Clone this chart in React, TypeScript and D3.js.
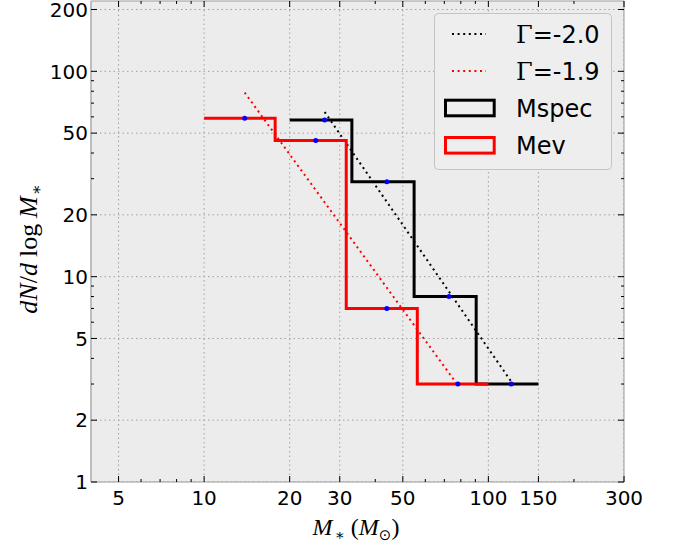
import React from "react";
import * as d3 from "d3";

// Mass function data: log-spaced bin edges and dN/dlogM per bin
const mevEdges = [10, 17.78, 31.62, 56.23, 100];
const mevValues = [59, 46, 7, 3];
const mspecEdges = [20, 33.1, 54.8, 90.6, 150];
const mspecValues = [58, 29, 8, 3];

// Power-law fits  dN/dlogM = A * M^Gamma
const fitGammas = [-2.0, -1.9];
const fitAmplitudes = [44650, 11680];
const fitLabels = ["-2.0", "-1.9"];

const xMajorTicks = [5, 10, 20, 30, 50, 100, 150, 300];
const xMinorTicks = [6, 7, 8, 9, 40, 60, 70, 80, 90, 200];
const yMajorTicks = [1, 2, 5, 10, 20, 50, 100, 200];
const yMinorTicks = [3, 4, 6, 7, 8, 9, 30, 40, 60, 70, 80, 90];

const W = 676;
const H = 549;
const left = 91;
const right = 624;
const top = 1;
const bottom = 482;

const sans = "'DejaVu Sans', sans-serif";
const serif = "'Liberation Serif', 'DejaVu Serif', serif";

function stepPath(edges: number[], values: number[], x: d3.ScaleLogarithmic<number, number>, y: d3.ScaleLogarithmic<number, number>) {
  const pts: [number, number][] = [];
  values.forEach((v, i) => {
    pts.push([x(edges[i]), y(v)]);
    pts.push([x(edges[i + 1]), y(v)]);
  });
  return d3.line()(pts) as string;
}

function centers(edges: number[]) {
  return edges.slice(0, -1).map((e, i) => (e + edges[i + 1]) / 2);
}

export default function App() {
  const x = d3.scaleLog().domain([4, 300]).range([left, right]);
  const y = d3.scaleLog().domain([1, 220]).range([bottom, top]);

  const mevC = centers(mevEdges);
  const mspecC = centers(mspecEdges);

  const fitRanges = [
    [mspecC[0], mspecC[mspecC.length - 1]],
    [mevC[0], mevC[mevC.length - 1]],
  ];
  const fitColors = ["#000000", "#ff0000"];

  const fitPath = (k: number) => {
    const [m0, m1] = fitRanges[k];
    const f = (m: number) => fitAmplitudes[k] * Math.pow(m, fitGammas[k]);
    return d3.line()([
      [x(m0), y(f(m0))],
      [x(m1), y(f(m1))],
    ]) as string;
  };

  const gridStyle = { stroke: "#a0a0a0", strokeWidth: 1, strokeDasharray: "1.5,3" };

  return (
    <svg width={W} height={H} style={{ position: "absolute", left: 0, top: 0 }}>
      <rect x={0} y={0} width={W} height={H} fill="#ffffff" />
      <defs>
        <clipPath id="plotArea">
          <rect x={left} y={top} width={right - left} height={bottom - top} />
        </clipPath>
      </defs>
      <rect x={left} y={top} width={right - left} height={bottom - top} fill="#ececec" />

      {/* grid */}
      <g clipPath="url(#plotArea)">
        {xMajorTicks.map((t) => (
          <line key={"gx" + t} x1={x(t)} x2={x(t)} y1={top} y2={bottom} {...gridStyle} />
        ))}
        {yMajorTicks.map((t) => (
          <line key={"gy" + t} x1={left} x2={right} y1={y(t)} y2={y(t)} {...gridStyle} />
        ))}
      </g>

      {/* power-law fits */}
      {fitGammas.map((_, k) => (
        <path key={"fit" + k} d={fitPath(k)} fill="none" stroke={fitColors[k]} strokeWidth={2} strokeDasharray="2,3.6" />
      ))}

      {/* histograms */}
      <path d={stepPath(mspecEdges, mspecValues, x, y)} fill="none" stroke="#000" strokeWidth={3} />
      <path d={stepPath(mevEdges, mevValues, x, y)} fill="none" stroke="#ff0000" strokeWidth={3} />

      {/* bin centres */}
      {mspecC.map((c, i) => (
        <circle key={"cs" + i} cx={x(c)} cy={y(mspecValues[i])} r={2.5} fill="#0000ff" />
      ))}
      {mevC.map((c, i) => (
        <circle key={"cm" + i} cx={x(c)} cy={y(mevValues[i])} r={2.5} fill="#0000ff" />
      ))}

      {/* spines */}
      <line x1={left} x2={right} y1={top} y2={top} stroke="#999" strokeWidth={1} />
      <line x1={right} x2={right} y1={top} y2={bottom} stroke="#999" strokeWidth={1} />
      <line x1={left} x2={right} y1={bottom} y2={bottom} stroke="#999" strokeWidth={1} />
      <line x1={left} x2={left} y1={top} y2={bottom} stroke="#bdbdbd" strokeWidth={2} />

      {/* ticks */}
      <g stroke="#000" strokeWidth={1}>
        {xMajorTicks.map((t) => (
          <g key={"xt" + t}>
            <line x1={x(t)} x2={x(t)} y1={bottom} y2={bottom - 6} />
            <line x1={x(t)} x2={x(t)} y1={top} y2={top + 6} />
          </g>
        ))}
        {xMinorTicks.map((t) => (
          <g key={"xm" + t}>
            <line x1={x(t)} x2={x(t)} y1={bottom} y2={bottom - 3} />
            <line x1={x(t)} x2={x(t)} y1={top} y2={top + 3} />
          </g>
        ))}
        {yMajorTicks.map((t) => (
          <g key={"yt" + t}>
            <line x1={left} x2={left + 6} y1={y(t)} y2={y(t)} />
            <line x1={right} x2={right - 6} y1={y(t)} y2={y(t)} />
          </g>
        ))}
        {yMinorTicks.map((t) => (
          <g key={"ym" + t}>
            <line x1={left} x2={left + 3} y1={y(t)} y2={y(t)} />
            <line x1={right} x2={right - 3} y1={y(t)} y2={y(t)} />
          </g>
        ))}
      </g>

      {/* tick labels */}
      <g fontFamily={sans} fontSize={20} fill="#000">
        {xMajorTicks.map((t) => (
          <text key={"xl" + t} x={x(t)} y={505} textAnchor="middle">
            {t}
          </text>
        ))}
        {yMajorTicks.map((t) => (
          <text key={"yl" + t} x={left - 3} y={y(t)} dy="0.36em" textAnchor="end">
            {t}
          </text>
        ))}
      </g>

      {/* axis labels */}
      <text x={356} y={535} textAnchor="middle" fontFamily={serif} fontSize={24}>
        <tspan fontStyle="italic">M</tspan>
        <tspan fontSize={15} dy={5} dx={2}>∗</tspan>
        <tspan dy={-5} dx={6}>(</tspan>
        <tspan fontStyle="italic">M</tspan>
        <tspan fontSize={15} dy={5} fontFamily="'DejaVu Sans'">⊙</tspan>
        <tspan dy={-5}>)</tspan>
      </text>
      <text transform="translate(37,249) rotate(-90)" textAnchor="middle" fontFamily={serif} fontSize={26}>
        <tspan fontStyle="italic">dN</tspan>
        <tspan>/</tspan>
        <tspan fontStyle="italic">d</tspan>
        <tspan dx={6}>log</tspan>
        <tspan dx={6} fontStyle="italic">M</tspan>
        <tspan fontSize={16} dy={5} dx={1}>∗</tspan>
      </text>

      {/* legend */}
      <rect x={434.5} y={13.5} width={177} height={156} rx={4} fill="#eeeeee" stroke="#c4c4c4" strokeWidth={1} />
      {fitGammas.map((_, k) => (
        <g key={"lg" + k}>
          <line x1={452} x2={486} y1={34 + k * 37} y2={34 + k * 37} stroke={fitColors[k]} strokeWidth={2} strokeDasharray="2,3.6" />
          <text x={516} y={42.5 + k * 37} fontSize={24} fontFamily={sans}>
            <tspan fontFamily="'DejaVu Serif', serif">Γ</tspan>
            <tspan>={fitLabels[k]}</tspan>
          </text>
        </g>
      ))}
      <rect x={445.5} y={100.2} width={48.7} height={15.6} fill="none" stroke="#000" strokeWidth={3} />
      <text x={516} y={116.7} fontSize={24} fontFamily={sans}>Mspec</text>
      <rect x={445.5} y={137.5} width={48.7} height={15.6} fill="none" stroke="#ff0000" strokeWidth={3} />
      <text x={516} y={153.5} fontSize={24} fontFamily={sans}>Mev</text>
    </svg>
  );
}
